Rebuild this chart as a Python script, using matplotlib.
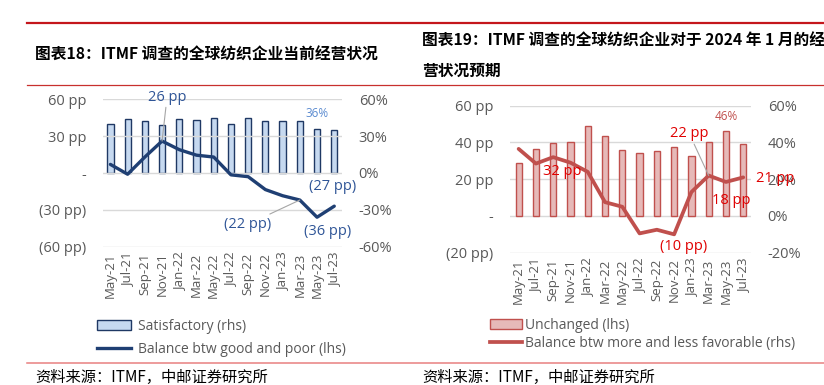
import numpy as np
import matplotlib
matplotlib.use('Agg')
import matplotlib.pyplot as plt
from matplotlib.lines import Line2D
from matplotlib.patches import Patch

plt.rcParams['font.family'] = ['Open Sans', 'Noto Sans CJK SC', 'DejaVu Sans']

# Data
months = ['May-21', 'Jul-21', 'Sep-21', 'Nov-21', 'Jan-22', 'Mar-22', 'May-22',
          'Jul-22', 'Sep-22', 'Nov-22', 'Jan-23', 'Mar-23', 'May-23', 'Jul-23']

# left chart: current business situation
satisfactory = [39.5, 44, 42, 39, 44, 43.5, 44.5, 40, 44.5, 42, 42, 42, 36, 35]   # % (rhs)
balance_now = [7, -1, 13, 26, 19, 14.5, 13, -1.5, -3, -13.5, -18.5, -22, -36, -27]  # pp (lhs)

# right chart: expectations for Jan 2024
unchanged = [29, 36.5, 39.5, 40.5, 49, 43.5, 36, 34.5, 35.5, 37.5, 32.5, 40, 46.5, 39]  # pp (lhs)
balance_exp = [36.5, 28.5, 32, 29, 24, 7.5, 5, -9.5, -7.5, -10, 13, 22, 18.5, 21]     # % (rhs)

W, H = 824, 385
fig = plt.figure(figsize=(W / 100, H / 100), dpi=100)

def fx(px):
    return px / W

def fy(py):
    return 1 - py / H

grey = '#595959'
grid_c = '#D9D9D9'
x = np.arange(len(months))

# red rules and captions
fig.add_artist(Line2D([fx(27), 1], [fy(23), fy(23)], color='#C4161C', lw=1.6))
fig.add_artist(Line2D([fx(27), 1], [fy(85), fy(85)], color='#C8302E', lw=0.9))
fig.add_artist(Line2D([fx(27), 1], [fy(362.5), fy(362.5)], color='#E88080', lw=1.1))

cjk = ['Noto Sans CJK SC', 'DejaVu Sans']
fig.text(fx(35), fy(55), '图表18：ITMF 调查的全球纺织企业当前经营状况', family=cjk,
         fontsize=11.3, fontweight='bold', va='center', ha='left')
fig.text(fx(422), fy(41), '图表19：ITMF 调查的全球纺织企业对于 2024 年 1 月的经', family=cjk,
         fontsize=11.3, fontweight='bold', va='center', ha='left')
fig.text(fx(422), fy(71), '营状况预期', family=cjk,
         fontsize=11.3, fontweight='bold', va='center', ha='left')
fig.text(fx(35), fy(377), '资料来源：ITMF，中邮证券研究所', family=cjk,
         fontsize=11, va='center', ha='left')
fig.text(fx(422), fy(377), '资料来源：ITMF，中邮证券研究所', family=cjk,
         fontsize=11, va='center', ha='left')


def style(ax, ticks, labels):
    for s in ax.spines.values():
        s.set_visible(False)
    ax.set_yticks(ticks)
    ax.set_yticklabels(labels)
    ax.tick_params(axis='both', length=0, colors=grey, labelsize=10.5, pad=12)


# ---------------- left chart ----------------
ax1 = fig.add_axes([fx(103), fy(246.7), fx(342 - 103), (246.7 - 99.3) / H])
ax1b = ax1.twinx()
ax1.set_zorder(ax1b.get_zorder() + 1)
ax1.patch.set_visible(False)

ax1b.bar(x, satisfactory, width=0.36, color='#C6D9F0', edgecolor='#1F3864', lw=1.0)
ax1b.set_ylim(-60, 60)
style(ax1b, [-60, -30, 0, 30, 60], ['-60%', '-30%', '0%', '30%', '60%'])
ax1b.annotate('36%', (x[12], satisfactory[12]), xytext=(0, 11), textcoords='offset points',
              ha='center', va='center', fontsize=8.5, color='#5B8BD0')

for v in [-60, -30, 0, 30, 60]:
    ax1.axhline(v, color=grid_c, lw=1, zorder=0)
ax1.plot(x, balance_now, color='#1F3F73', lw=2.4, solid_capstyle='round')
ax1.set_ylim(-60, 60)
ax1.set_xlim(-0.43, 13.45)
style(ax1, [-60, -30, 0, 30, 60], ['(60 pp)', '(30 pp)', '-', '30 pp', '60 pp'])
ax1.set_xticks(x)
ax1.set_xticklabels(months, rotation=90, fontsize=9.5)
ax1.tick_params(axis='x', pad=4)

lab_c = '#2F5597'
lead = dict(arrowstyle='-', color='#A6A6A6', lw=0.8, shrinkA=0, shrinkB=0)
ax1.annotate('26 pp', (x[3], balance_now[3]), xytext=(3.6, 31.7), textcoords='offset points',
             ha='center', va='center', fontsize=10.5, color=lab_c, arrowprops=lead)
ax1.annotate('(22 pp)', (x[11], balance_now[11]), xytext=(-37.4, -17.5), textcoords='offset points',
             ha='center', va='center', fontsize=10.5, color=lab_c, arrowprops=lead)
ax1.annotate('(36 pp)', (x[12], balance_now[12]), xytext=(7.4, -10.3), textcoords='offset points',
             ha='center', va='center', fontsize=10.5, color=lab_c)
ax1.annotate('(27 pp)', (x[13], balance_now[13]), xytext=(-1, 14.4), textcoords='offset points',
             ha='center', va='center', fontsize=10.5, color=lab_c)

fig.legend([Patch(facecolor='#C6D9F0', edgecolor='#1F3864', lw=1.0),
            Line2D([], [], color='#1F3F73', lw=2.4)],
           ['Satisfactory (rhs)', 'Balance btw good and poor (lhs)'],
           loc='upper left', bbox_to_anchor=(fx(97), fy(319)), frameon=False,
           fontsize=10, labelcolor=grey, handlelength=2.45, handletextpad=0.5,
           labelspacing=0.6, borderpad=0, borderaxespad=0)

# ---------------- right chart ----------------
ax2 = fig.add_axes([fx(510), fy(252.7), fx(751 - 510), (252.7 - 105.7) / H])
ax2b = ax2.twinx()
ax2b.set_zorder(ax2.get_zorder() + 1)
ax2b.patch.set_visible(False)

for v in [-20, 0, 20, 40, 60]:
    ax2.axhline(v, color=grid_c, lw=1, zorder=0)
ax2.bar(x, unchanged, width=0.36, color='#E6B9B8', edgecolor='#C0504D', lw=1.0)
ax2.set_ylim(-20, 60)
ax2.set_xlim(-0.5, 13.45)
style(ax2, [-20, 0, 20, 40, 60], ['(20 pp)', '-', '20 pp', '40 pp', '60 pp'])
ax2.set_xticks(x)
ax2.set_xticklabels(months, rotation=90, fontsize=9.5)
ax2.tick_params(axis='x', pad=4)
ax2.annotate('46%', (x[12], unchanged[12]), xytext=(0, 10), textcoords='offset points',
             ha='center', va='center', fontsize=8.5, color='#C0504D')

ax2b.plot(x, balance_exp, color='#C0504D', lw=2.7, solid_capstyle='round')
ax2b.set_ylim(-20, 60)
style(ax2b, [-20, 0, 20, 40, 60], ['-20%', '0%', '20%', '40%', '60%'])

red = '#E00000'
ax2b.annotate('32 pp', (x[2], balance_exp[2]), xytext=(6.5, -10.3), textcoords='offset points',
              ha='center', va='center', fontsize=10.5, color=red)
ax2b.annotate('(10 pp)', (x[9], balance_exp[9]), xytext=(6.7, -9.1), textcoords='offset points',
              ha='center', va='center', fontsize=10.5, color=red)
ax2b.annotate('22 pp', (x[11], balance_exp[11]), xytext=(-13.9, 30), textcoords='offset points',
              ha='center', va='center', fontsize=10.5, color=red, arrowprops=lead)
ax2b.annotate('18 pp', (x[12], balance_exp[12]), xytext=(3.6, -13), textcoords='offset points',
              ha='center', va='center', fontsize=10.5, color=red)
ax2b.annotate('21 pp', (x[13], balance_exp[13]), xytext=(23, -1), textcoords='offset points',
              ha='center', va='center', fontsize=10.5, color=red, annotation_clip=False)

fig.legend([Patch(facecolor='#E6B9B8', edgecolor='#C0504D', lw=1.0),
            Line2D([], [], color='#C0504D', lw=2.7)],
           ['Unchanged (lhs)', 'Balance btw more and less favorable (rhs)'],
           loc='upper left', bbox_to_anchor=(fx(490), fy(318)), frameon=False,
           fontsize=10, labelcolor=grey, handlelength=2.3, handletextpad=0.25,
           labelspacing=0.2, borderpad=0, borderaxespad=0)

fig.savefig('out.png', dpi=100)
